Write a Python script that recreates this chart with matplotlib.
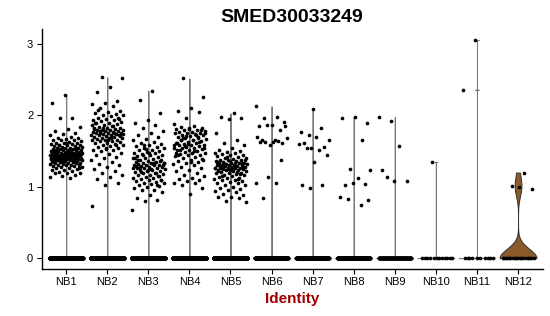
import matplotlib
matplotlib.use("Agg")
import matplotlib.pyplot as plt
import numpy as np

plt.rcParams['font.family'] = ['Liberation Sans', 'DejaVu Sans']

gene = 'SMED30033249'
groups = ['NB1', 'NB2', 'NB3', 'NB4', 'NB5', 'NB6', 'NB7', 'NB8', 'NB9', 'NB10', 'NB11', 'NB12']

# cells with zero expression per group
zero_counts = [2500, 2200, 2200, 2000, 2000, 400, 300, 250, 150, 12, 10, 18]

# non-zero expression values
nb1 = [2.29, 2.17, 1.97, 1.96, 1.84, 1.81, 1.78, 1.75, 1.74, 1.72, 1.70, 1.69, 1.68, 1.67, 1.66, 1.65, 1.65, 1.64,
       1.63, 1.62, 1.62, 1.61, 1.60, 1.60, 1.59, 1.58, 1.58, 1.57, 1.57, 1.56, 1.56, 1.55, 1.55, 1.54, 1.54, 1.53,
       1.53, 1.53, 1.52, 1.52, 1.51, 1.51, 1.51, 1.50, 1.50, 1.50, 1.49, 1.49, 1.49, 1.48, 1.48, 1.48, 1.47, 1.47,
       1.47, 1.46, 1.46, 1.46, 1.45, 1.45, 1.45, 1.45, 1.44, 1.44, 1.44, 1.43, 1.43, 1.43, 1.43, 1.42, 1.42, 1.42,
       1.41, 1.41, 1.41, 1.40, 1.40, 1.40, 1.40, 1.39, 1.39, 1.39, 1.38, 1.38, 1.38, 1.37, 1.37, 1.37, 1.36, 1.36,
       1.35, 1.35, 1.35, 1.34, 1.34, 1.33, 1.33, 1.32, 1.32, 1.31, 1.31, 1.30, 1.30, 1.29, 1.29, 1.28, 1.28, 1.27,
       1.26, 1.25, 1.24, 1.23, 1.22, 1.21, 1.20, 1.20, 1.19, 1.17, 1.15, 1.14, 1.13, 1.38, 1.44, 1.47, 1.52, 1.36,
       1.41, 1.46, 1.50, 1.42, 1.55, 1.33, 1.39, 1.48, 1.58, 1.27, 1.61, 1.43, 1.45, 1.40]
nb2 = [2.54, 2.52, 2.40, 2.33, 2.21, 2.18, 2.16, 2.13, 2.10, 2.07, 2.05, 2.03, 2.02, 2.01, 2.00, 1.99, 1.97, 1.96,
       1.95, 1.94, 1.93, 1.92, 1.91, 1.90, 1.89, 1.88, 1.87, 1.86, 1.85, 1.84, 1.83, 1.82, 1.82, 1.81, 1.80, 1.80,
       1.79, 1.79, 1.78, 1.78, 1.77, 1.77, 1.76, 1.76, 1.75, 1.75, 1.74, 1.74, 1.73, 1.73, 1.72, 1.72, 1.71, 1.70,
       1.70, 1.69, 1.68, 1.68, 1.67, 1.66, 1.66, 1.65, 1.64, 1.64, 1.63, 1.62, 1.61, 1.60, 1.59, 1.58, 1.57, 1.56,
       1.55, 1.54, 1.52, 1.51, 1.50, 1.48, 1.46, 1.44, 1.42, 1.40, 1.38, 1.35, 1.32, 1.30, 1.28, 1.25, 1.22, 1.20,
       1.17, 1.14, 1.11, 1.05, 1.03, 0.73, 1.85, 1.78, 1.71, 1.65, 1.90, 1.59, 1.82, 1.74, 1.68, 2.08, 1.95, 1.53,
       1.81, 1.76]
nb3 = [2.35, 2.22, 2.04, 1.93, 1.89, 1.87, 1.82, 1.78, 1.75, 1.72, 1.70, 1.67, 1.65, 1.63, 1.61, 1.60, 1.58, 1.57,
       1.56, 1.55, 1.54, 1.52, 1.51, 1.50, 1.49, 1.48, 1.47, 1.46, 1.45, 1.44, 1.43, 1.42, 1.41, 1.40, 1.39, 1.38,
       1.37, 1.36, 1.35, 1.35, 1.34, 1.33, 1.33, 1.32, 1.31, 1.31, 1.30, 1.30, 1.29, 1.28, 1.28, 1.27, 1.26, 1.26,
       1.25, 1.24, 1.23, 1.22, 1.22, 1.21, 1.20, 1.19, 1.18, 1.17, 1.16, 1.15, 1.14, 1.13, 1.12, 1.11, 1.10, 1.09,
       1.08, 1.07, 1.06, 1.05, 1.04, 1.03, 1.01, 1.00, 0.98, 0.96, 0.95, 0.93, 0.88, 0.84, 0.82, 0.80, 0.68, 1.32,
       1.28, 1.36, 1.24, 1.41, 1.19, 1.45, 1.30, 1.25, 1.38, 1.15, 1.53, 1.27, 1.34, 1.21, 1.10, 1.47, 1.29, 1.02,
       1.58, 1.33]
nb4 = [2.52, 2.26, 2.10, 2.06, 2.05, 1.96, 1.88, 1.85, 1.84, 1.83, 1.82, 1.81, 1.80, 1.79, 1.78, 1.77, 1.77, 1.76,
       1.75, 1.75, 1.74, 1.73, 1.72, 1.71, 1.70, 1.69, 1.68, 1.67, 1.66, 1.65, 1.64, 1.63, 1.62, 1.61, 1.60, 1.59,
       1.58, 1.58, 1.57, 1.56, 1.55, 1.55, 1.54, 1.53, 1.52, 1.51, 1.50, 1.49, 1.48, 1.47, 1.46, 1.45, 1.44, 1.43,
       1.42, 1.40, 1.38, 1.37, 1.36, 1.35, 1.34, 1.32, 1.30, 1.28, 1.26, 1.24, 1.22, 1.20, 1.17, 1.15, 1.13, 1.11,
       1.10, 1.08, 1.06, 1.05, 1.03, 0.98, 0.90, 1.62, 1.70, 1.57, 1.76, 1.66, 1.52, 1.79, 1.60, 1.48, 1.73, 1.68,
       1.54, 1.35, 1.44, 1.63, 1.71, 1.58, 1.50, 1.65, 1.39, 1.81]
nb5 = [2.03, 1.98, 1.96, 1.95, 1.76, 1.66, 1.62, 1.58, 1.55, 1.52, 1.50, 1.49, 1.48, 1.47, 1.46, 1.45, 1.44, 1.43,
       1.42, 1.41, 1.40, 1.39, 1.38, 1.38, 1.37, 1.36, 1.36, 1.35, 1.34, 1.34, 1.33, 1.33, 1.32, 1.32, 1.31, 1.31,
       1.30, 1.30, 1.30, 1.29, 1.29, 1.28, 1.28, 1.28, 1.27, 1.27, 1.26, 1.26, 1.25, 1.25, 1.24, 1.24, 1.23, 1.23,
       1.22, 1.22, 1.21, 1.20, 1.20, 1.19, 1.18, 1.17, 1.16, 1.15, 1.14, 1.13, 1.12, 1.11, 1.10, 1.09, 1.08, 1.07,
       1.06, 1.05, 1.03, 1.02, 1.00, 0.99, 0.97, 0.95, 0.94, 0.93, 0.90, 0.88, 0.86, 0.85, 0.84, 0.80, 0.78, 1.30,
       1.27, 1.33, 1.25, 1.35, 1.21, 1.29, 1.38, 1.24, 1.31, 1.18, 1.42, 1.26, 1.34, 1.15, 1.28, 1.36, 1.22, 1.11,
       1.32]
nb6 = [2.13, 1.98, 1.97, 1.91, 1.87, 1.85, 1.80, 1.86, 1.69, 1.65, 1.65, 1.61, 1.58, 1.70, 1.64, 1.63, 1.85, 1.63,
       1.63, 1.38, 1.14, 1.06, 1.05, 0.84]
nb7 = [2.09, 1.77, 1.83, 1.72, 1.66, 1.70, 1.61, 1.56, 1.55, 1.60, 1.52, 1.55, 1.45, 1.35, 1.03, 1.02, 0.98]
nb8 = [1.89, 1.98, 1.96, 1.66, 1.25, 1.24, 1.12, 1.03, 1.04, 1.05, 0.855, 0.75, 0.83, 0.81]
nb9 = [1.92, 1.98, 1.57, 1.14, 1.08, 1.075, 1.23]
nb10 = [1.35]
nb11 = [3.06, 2.36]
nb12 = [1.20, 1.01, 0.97, 1.00]
nonzero_values = [nb1, nb2, nb3, nb4, nb5, nb6, nb7, nb8, nb9, nb10, nb11, nb12]

fill_colors = ['#E8A33D', '#5B9BD5', '#70AD47', '#C55A91', '#8E7CC3', '#E06666',
               '#45B7AF', '#F1C232', '#6D9EEB', '#B4A7D6', '#93C47D', '#8B5A2B']
violin_bw = [0.003] * 11 + [0.13]
edge_colors = ['#777777'] * 11 + ['#333333']

fig = plt.figure(figsize=(5.5, 3.16), dpi=100)
ax = fig.add_axes([0.0755, 0.1487, 0.9112, 0.7595])

golden = 0.6180339887
ymax_all = 0
for i, name in enumerate(groups):
    vals = np.concatenate([np.zeros(zero_counts[i]), np.array(nonzero_values[i], dtype=float)])
    ymax_all = max(ymax_all, vals.max())

    # violin (gaussian kde, trimmed to data range, scaled to common width)
    grid = np.linspace(vals.min(), vals.max(), 512)
    bw = violin_bw[i]
    dens = np.exp(-0.5 * ((grid[:, None] - vals[None, :]) / bw) ** 2).sum(axis=1)
    half = 0.45 * dens / dens.max()
    ax.fill_betweenx(grid, i - half, i + half, facecolor=fill_colors[i],
                     edgecolor=edge_colors[i], linewidth=0.7, zorder=2)

    # jittered points (deterministic low-discrepancy offsets)
    n = len(vals)
    offs = 0.4 * (2 * ((0.37 + i * 0.29 + np.arange(n) * golden) % 1.0) - 1)
    ax.scatter(i + offs, vals, s=7, color='black', linewidths=0, zorder=3)

pad = 0.05 * ymax_all
ax.set_ylim(-pad, ymax_all + pad)
ax.set_xlim(-0.6, len(groups) - 0.4)
ax.set_xticks(range(len(groups)))
ax.set_xticklabels(groups)
ax.set_yticks([0, 1, 2, 3])

for side in ['top', 'right']:
    ax.spines[side].set_visible(False)
for side in ['left', 'bottom']:
    ax.spines[side].set_linewidth(1.0)
    ax.spines[side].set_color('black')
ax.tick_params(length=3.5, width=0.8, colors='black', labelsize=8, pad=2.5)

ax.set_title(gene, fontsize=14, fontweight='bold', pad=5)
ax.set_xlabel('Identity', fontsize=11, fontweight='bold', color='#A00000', labelpad=3)

fig.savefig('out.png', dpi=100)
